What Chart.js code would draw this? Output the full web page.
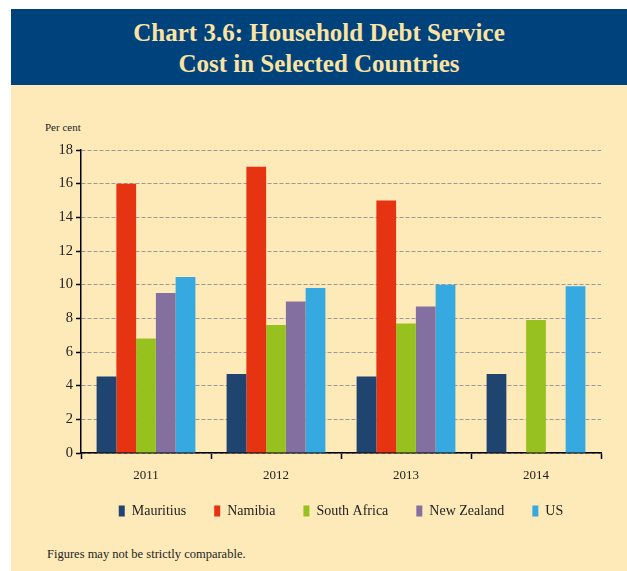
<!DOCTYPE html>
<html>
<head>
<meta charset="utf-8">
<script src="https://cdn.jsdelivr.net/npm/chart.js@4/dist/chart.umd.min.js"></script>
<style>
    body { margin: 0; background: #fff; width: 627px; height: 571px; overflow: hidden; position: relative; }
    #panel { position: absolute; left: 11px; top: 9px; width: 616px; height: 562px; background: #FEEAB9; }
    #banner { position: absolute; left: 11px; top: 9px; width: 616px; height: 76px; background: #00427B;
        color: #FCE3A2; font-family: "Liberation Serif", serif; font-size: 25px; font-weight: bold; line-height: 31px;
        text-align: center; box-sizing: border-box; padding-top: 8px; }
    #unit { position: absolute; left: 45px; top: 121px; font-family: "Liberation Serif", serif; font-size: 11px; color: #222; }
    #note { position: absolute; left: 47px; top: 547px; font-family: "Liberation Serif", serif; font-size: 12.5px; color: #222; }
    canvas { position: absolute; left: 0; top: 0; }
</style>
</head>
<body>
<div id="panel"></div>
<div id="banner">Chart 3.6: Household Debt Service<br>Cost in Selected Countries</div>
<div id="unit">Per cent</div>
<div id="note">Figures may not be strictly comparable.</div>
<canvas id="chart" width="627" height="571"></canvas>
<script>
const years = ['2011', '2012', '2013', '2014'];
const mauritius = [4.55, 4.7, 4.55, 4.7];
const namibia = [16, 17, 15, null];
const southAfrica = [6.8, 7.6, 7.7, 7.9];
const newZealand = [9.5, 9.0, 8.7, null];
const us = [10.45, 9.8, 10.0, 9.9];

const serif = '"Liberation Serif", "Times New Roman", serif';

function series(label, data, color) {
    return { label: label, data: data, backgroundColor: color, borderWidth: 0 };
}

// nudge the legend row up a little, closer to the axis labels
const legendNudge = {
    id: 'legendNudge',
    afterLayout(chart) {
        chart.legend.top -= 9;
        chart.legend.bottom -= 9;
    }
};

new Chart(document.getElementById('chart').getContext('2d'), {
    type: 'bar',
    data: {
        labels: years,
        datasets: [
            series('Mauritius', mauritius, '#1F4470'),
            series('Namibia', namibia, '#E63312'),
            series('South Africa', southAfrica, '#97C11F'),
            series('New Zealand', newZealand, '#8470A0'),
            series('US', us, '#36A9E1')
        ]
    },
    plugins: [legendNudge],
    options: {
        responsive: false,
        animation: false,
        devicePixelRatio: 1,
        categoryPercentage: 0.76,
        barPercentage: 1,
        layout: { padding: { left: 0, right: 26, top: 150, bottom: 34 } },
        plugins: {
            tooltip: { enabled: false },
            legend: {
                position: 'bottom',
                fullSize: false,
                labels: {
                    boxWidth: 6,
                    boxHeight: 11,
                    padding: 28,
                    color: '#222',
                    font: { family: serif, size: 14 }
                }
            }
        },
        scales: {
            x: {
                afterFit: s => { s.height = 32; },
                grid: { offset: true, drawOnChartArea: false, drawTicks: true, tickLength: 6, tickColor: '#000', tickWidth: 1.5 },
                border: { display: true, color: '#000', width: 1.5 },
                ticks: { color: '#222', padding: 9, font: { family: serif, size: 13 } }
            },
            y: {
                min: 0,
                max: 18,
                afterFit: s => { s.width = 81; },
                grid: { color: '#999', lineWidth: 1, tickLength: 5, tickColor: '#000', tickWidth: 1.5, tickBorderDash: [] },
                border: { display: true, color: '#000', width: 1.5, dash: [4, 2] },
                ticks: { stepSize: 2, color: '#222', padding: 3, font: { family: serif, size: 14.5 } }
            }
        }
    }
});
</script>
</body>
</html>
